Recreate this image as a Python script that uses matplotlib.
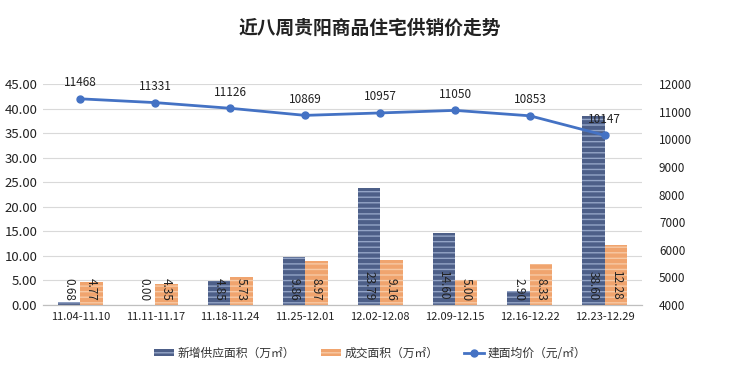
import matplotlib
matplotlib.use('Agg')
import matplotlib.pyplot as plt
import numpy as np

plt.rcParams['font.family'] = ['Noto Sans CJK SC', 'DejaVu Sans']
plt.rcParams['hatch.linewidth'] = 1.0

# 数据
weeks = ['11.04-11.10', '11.11-11.17', '11.18-11.24', '11.25-12.01',
         '12.02-12.08', '12.09-12.15', '12.16-12.22', '12.23-12.29']
supply = [0.68, 0.00, 4.85, 9.86, 23.79, 14.60, 2.90, 38.60]
deal = [4.77, 4.35, 5.73, 8.97, 9.16, 5.00, 8.33, 12.28]
price = [11468, 11331, 11126, 10869, 10957, 11050, 10853, 10147]

x = np.arange(len(weeks))
w = 0.3

fig = plt.figure(figsize=(7.4, 3.74), dpi=100)
ax = fig.add_axes([0.058, 0.1845, 0.81, 0.5905])
ax2 = ax.twinx()

b1 = ax.bar(x - w / 2, supply, w, color='#4d5f88', hatch='---', edgecolor='#93a4c6',
            linewidth=0, label='新增供应面积（万㎡）')
b2 = ax.bar(x + w / 2, deal, w, color='#f0a46e', hatch='---', edgecolor='#f7c9a4',
            linewidth=0, label='成交面积（万㎡）')

for xi, v in zip(x - w / 2, supply):
    ax.annotate('%.2f' % v, (xi, 0), xytext=(0, 3), textcoords='offset points',
                rotation=270, ha='center', va='bottom', fontsize=8.5, color='#222222')
for xi, v in zip(x + w / 2, deal):
    ax.annotate('%.2f' % v, (xi, 0), xytext=(0, 3), textcoords='offset points',
                rotation=270, ha='center', va='bottom', fontsize=8.5, color='#222222')

l1, = ax2.plot(x, price, color='#4472c4', linewidth=2, marker='o', markersize=5,
               label='建面均价（元/㎡）')
for xi, v in zip(x, price):
    ax2.annotate(str(v), (xi, v), xytext=(0, 7), textcoords='offset points',
                 ha='center', va='bottom', fontsize=8.5, color='#222222')

ax.set_xlim(-0.5, len(weeks) - 0.5)
ax.set_ylim(0, 45)
ax.set_yticks(np.arange(0, 46, 5))
ax.set_yticklabels(['%.2f' % t for t in np.arange(0, 46, 5)])
ax2.set_ylim(4000, 12000)
ax2.set_yticks(np.arange(4000, 12001, 1000))
ax.set_xticks(x)
ax.set_xticklabels(weeks)

ax.yaxis.grid(True, color='#d9d9d9', linewidth=0.8)
ax.set_axisbelow(True)
for a in (ax, ax2):
    for s in ('top', 'left', 'right'):
        a.spines[s].set_visible(False)
    a.spines['bottom'].set_color('#bfbfbf')
    a.tick_params(length=0, labelsize=8.5, colors='#222222')
ax.tick_params(axis='y', labelsize=9.5, pad=4)
ax.tick_params(axis='x', labelsize=8, pad=5)
ax2.tick_params(axis='y', pad=12)

fig.text(0.5, 0.925, '近八周贵阳商品住宅供销价走势', ha='center', va='center',
         fontsize=13.5, fontweight='bold', color='#222222')

fig.legend([b1, b2, l1], [b1.get_label(), b2.get_label(), l1.get_label()],
           loc='center', bbox_to_anchor=(0.5, 0.056), ncol=3, frameon=False,
           fontsize=8.5, handlelength=1.7, handleheight=0.45, handletextpad=0.3,
           columnspacing=2.2, labelcolor='#333333')

fig.savefig('out.png', dpi=100, facecolor='white')
